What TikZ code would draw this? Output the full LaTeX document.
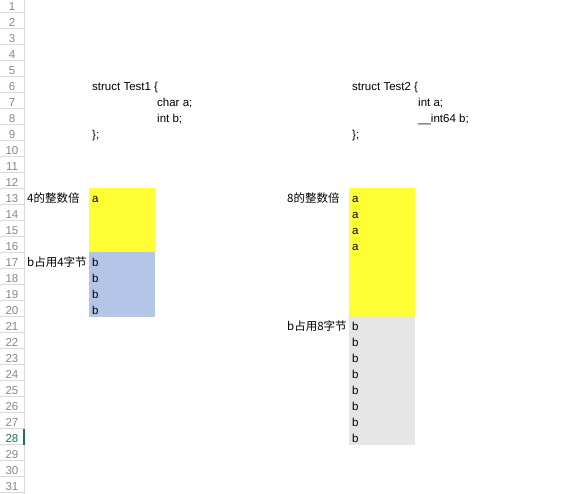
\documentclass[tikz,border=0pt]{standalone}
\usepackage{fontspec}
\setmainfont{Liberation Sans}
\newfontfamily\cjk{Noto Sans CJK SC}
\usetikzlibrary{positioning}
\definecolor{cellyellow}{RGB}{255,255,51}
\definecolor{cellblue}{RGB}{180,198,231}
\definecolor{cellgray}{RGB}{231,230,230}
\definecolor{gridgray}{RGB}{218,218,218}
\definecolor{numgray}{RGB}{135,135,135}
\definecolor{xlgreen}{RGB}{33,115,70}
\tikzset{every node/.append style={inner sep=0pt}}

\begin{document}
\begin{tikzpicture}[x=1pt, y=-1pt, font=\fontsize{11.5}{13}\selectfont,
    t/.style={anchor=base west},
    lab/.style={anchor=base west, font=\cjk\fontsize{11.5}{13}\selectfont},
    num/.style={anchor=base, text=numgray, font=\fontsize{11.5}{13}\selectfont},
    grid/.style={draw=gridgray, line width=0.6pt}]
\useasboundingbox (0,0) rectangle (562,494);
% row header
\foreach \r in {1,...,31}{
  \draw[grid] (0,{16*\r-3.5}) -- (24,{16*\r-3.5});
  \ifnum\r=28
    \node[num, text=xlgreen] (r\r) at (12,{16*\r-5.5}) {\r};
  \else
    \node[num] (r\r) at (12,{16*\r-5.5}) {\r};
  \fi
}
\draw[grid] (24.5,0) -- (24.5,494);
\fill[xlgreen] (23,428.5) rectangle (25,444.5);
% cells
\fill[cellyellow] (89,188.5) rectangle (155,252.5);
\fill[cellblue] (89,252.5) rectangle (155,316.5);
\fill[cellyellow] (349,188.5) rectangle (415,316.5);
\fill[cellgray] (349,316.5) rectangle (415,444.5);
% Test1
\node[t] (s1) at (92,90.5) {struct Test1 \{};
\node[t] (s1a) at (157,106.5) {char a;};
\node[t] (s1b) at (157,122.5) {int b;};
\node[t] (s1e) at (92,138.5) {\};};
\node[lab] (al1) at (27,202.5) {4的整数倍};
\node[lab] (bl1) at (27,266.5) {b占用4字节};
\node[t] (a1) at (92,202.5) {a};
\foreach \r in {17,...,20}
  \node[t] (b1-\r) at (92,{16*\r-5.5}) {b};
% Test2
\node[t] (s2) at (352,90.5) {struct Test2 \{};
\node[t] (s2a) at (418,106.5) {int a;};
\node[t] (s2b) at (418,122.5) {\_\_int64 b;};
\node[t] (s2e) at (352,138.5) {\};};
\node[lab] (al2) at (287,202.5) {8的整数倍};
\node[lab] (bl2) at (287,330.5) {b占用8字节};
\foreach \r in {13,...,16}
  \node[t] (a2-\r) at (352,{16*\r-5.5}) {a};
\foreach \r in {21,...,28}
  \node[t] (b2-\r) at (352,{16*\r-5.5}) {b};
\end{tikzpicture}
\end{document}
